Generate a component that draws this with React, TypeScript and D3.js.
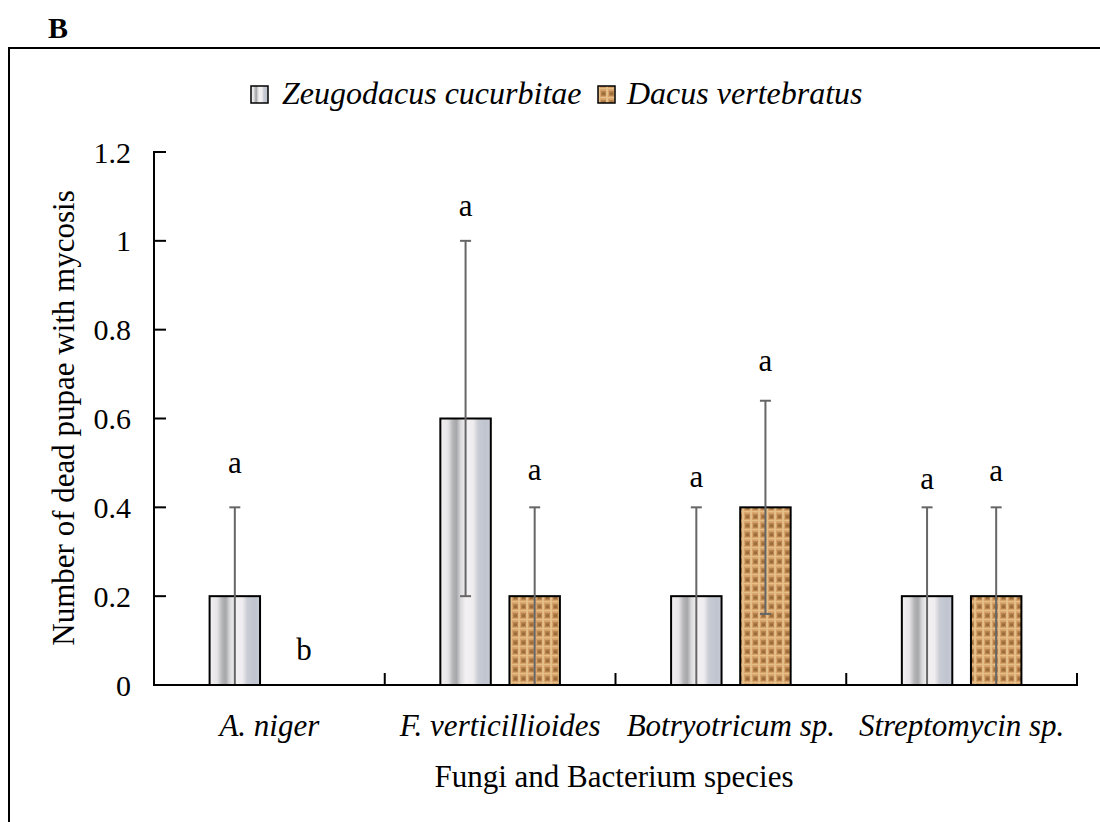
import React from "react";
import * as d3 from "d3";

const categories = ["A. niger", "F. verticillioides", "Botryotricum sp.", "Streptomycin sp."];
const seriesNames = ["Zeugodacus cucurbitae", "Dacus vertebratus"];
const zeugoValues = [0.2, 0.6, 0.2, 0.2];
const zeugoErrors = [0.2, 0.4, 0.2, 0.2];
const dacusValues = [0, 0.2, 0.4, 0.2];
const dacusErrors = [0, 0.2, 0.24, 0.2];
const zeugoLetters = ["a", "a", "a", "a"];
const dacusLetters = ["b", "a", "a", "a"];
const zeugoLetterY = [0.5, 1.08, 0.47, 0.466];
const dacusLetterY = [0.08, 0.486, 0.73, 0.484];
const yTicks = [0, 0.2, 0.4, 0.6, 0.8, 1, 1.2];

const W = 1100;
const H = 822;
const left = 154;
const right = 1077;
const top = 152;
const bottom = 685;
const FONT = "Liberation Serif, Times New Roman, serif";

export default function App() {
  const x = d3.scaleBand<string>().domain(categories).range([left, right]).padding(0);
  const y = d3.scaleLinear().domain([0, 1.2]).range([bottom, top]);
  const sub = d3.scaleBand<number>().domain([0, 1]).range([-66, 66]).paddingInner(0.27).paddingOuter(0.09);
  const bw = sub.bandwidth();
  const series = [
    { values: zeugoValues, errors: zeugoErrors, letters: zeugoLetters, ly: zeugoLetterY, fill: "url(#zeugo)" },
    { values: dacusValues, errors: dacusErrors, letters: dacusLetters, ly: dacusLetterY, fill: "url(#dacus)" },
  ];
  const boundaries = categories.map((c) => x(c)! + x.bandwidth());
  const txt = { fontFamily: FONT } as React.CSSProperties;

  return (
    <svg width={W} height={H} style={{ position: "absolute", left: 0, top: 0, background: "#fff", fontFamily: FONT }}>
      <defs>
        <linearGradient id="zeugo" x1="0" x2="1" y1="0" y2="0">
          <stop offset="0" stopColor="#f2f0f1" />
          <stop offset="0.15" stopColor="#e6e4e6" />
          <stop offset="0.25" stopColor="#b4b4b6" />
          <stop offset="0.32" stopColor="#a6a7aa" />
          <stop offset="0.4" stopColor="#d8d8da" />
          <stop offset="0.5" stopColor="#f3f1f2" />
          <stop offset="0.65" stopColor="#efedef" />
          <stop offset="0.75" stopColor="#c9ccd4" />
          <stop offset="0.9" stopColor="#bfc4cf" />
          <stop offset="1" stopColor="#c8ccd6" />
        </linearGradient>
        <pattern id="dacus" width="8" height="9" patternUnits="userSpaceOnUse">
          <rect width="8" height="9" fill="#d6a26a" />
          <rect x="1" y="1" width="5" height="5" fill="#a8733f" opacity="0.65" />
          <rect x="2" y="2.5" width="3" height="2.5" fill="#7e5128" opacity="0.5" />
          <rect x="6.4" y="0" width="1.3" height="9" fill="#eccb98" />
          <rect x="0" y="7" width="8" height="1.2" fill="#e6bf88" />
        </pattern>
      </defs>

      <text x={48} y={38} style={txt} fontSize={30} fontWeight="bold">B</text>
      <rect x={9} y={48} width={1110} height={800} fill="none" stroke="#000" strokeWidth={2} />

      {/* legend */}
      <g style={txt} fontSize={32} fontStyle="italic">
        <rect x={251} y={86} width={17} height={17} fill="url(#zeugo)" stroke="#000" strokeWidth={1.5} />
        <text x={282} y={104}>{seriesNames[0]}</text>
        <rect x={598} y={86} width={17} height={17} fill="url(#dacus)" stroke="#000" strokeWidth={1.5} />
        <text x={627} y={104}>{seriesNames[1]}</text>
      </g>

      {/* bars */}
      {series.map((s, si) =>
        categories.map((c, ci) => {
          const cx = x(c)! + x.bandwidth() / 2;
          const bx = cx + sub(si)!;
          const mid = bx + bw / 2;
          const v = s.values[ci];
          const e = s.errors[ci];
          return (
            <g key={`${si}-${ci}`}>
              {v > 0 && (
                <rect x={bx} y={y(v)} width={bw} height={y(0) - y(v)} fill={s.fill} stroke="#000" strokeWidth={2} />
              )}
              {e > 0 && (
                <g stroke="#666" strokeWidth={2}>
                  <line x1={mid} x2={mid} y1={y(v + e)} y2={y(Math.max(0, v - e))} />
                  <line x1={mid - 5.5} x2={mid + 5.5} y1={y(v + e)} y2={y(v + e)} />
                  {v - e > 0.001 && <line x1={mid - 5.5} x2={mid + 5.5} y1={y(v - e)} y2={y(v - e)} />}
                </g>
              )}
              <text x={mid} y={y(s.ly[ci])} textAnchor="middle" dominantBaseline="central" style={txt} fontSize={31}>
                {s.letters[ci]}
              </text>
            </g>
          );
        })
      )}

      {/* axes */}
      <g stroke="#000" strokeWidth={2}>
        <line x1={left} x2={left} y1={top - 1} y2={bottom + 1} />
        <line x1={left} x2={right + 1} y1={bottom} y2={bottom} />
        {yTicks.map((t) => (
          <line key={t} x1={left} x2={left + 12} y1={y(t)} y2={y(t)} />
        ))}
        {boundaries.map((b, i) => (
          <line key={i} x1={b} x2={b} y1={bottom} y2={bottom - 12} />
        ))}
      </g>
      <g style={txt} fontSize={30}>
        {yTicks.map((t) => (
          <text key={t} x={131} y={y(t)} textAnchor="end" dominantBaseline="central">
            {d3.format("~g")(t)}
          </text>
        ))}
        {categories.map((c) => (
          <text key={c} x={x(c)! + x.bandwidth() / 2} y={736} textAnchor="middle" fontStyle="italic" fontSize={31}>
            {c}
          </text>
        ))}
        <text x={614} y={787} textAnchor="middle" fontSize={31}>Fungi and Bacterium species</text>
        <text transform={`translate(74,${418}) rotate(-90)`} textAnchor="middle" fontSize={31}>
          Number of dead pupae with mycosis
        </text>
      </g>
    </svg>
  );
}
